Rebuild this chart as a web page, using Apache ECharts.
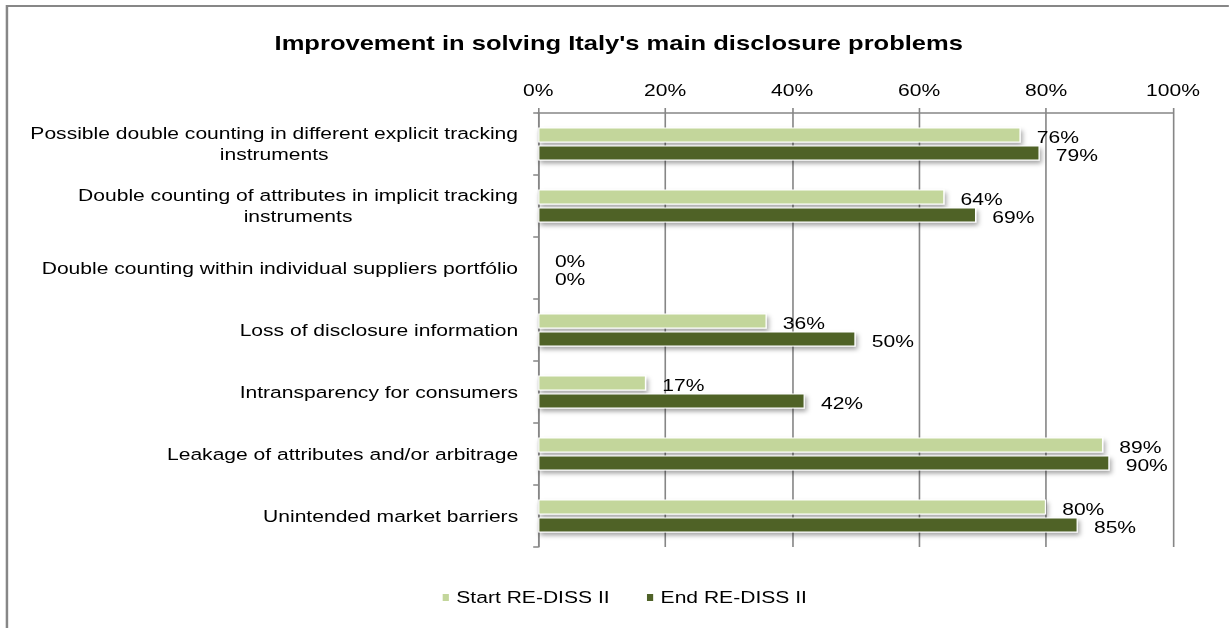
<!DOCTYPE html>
<html>
<head>
<meta charset="utf-8">
<script src="https://cdn.jsdelivr.net/npm/echarts@6/dist/echarts.min.js"></script>
<style>
  html, body { margin: 0; padding: 0; background: #ffffff; overflow: hidden; }
  /* the chart is laid out narrower and widened horizontally, giving the wide lettering */
  #chart { width: 991px; height: 628px; transform: scaleX(1.24); transform-origin: 0 0; }
</style>
</head>
<body>
<div id="chart"></div>
<script>
// Problem categories, top to bottom
const categories = [
  'Possible double counting in different explicit tracking\ninstruments',
  'Double counting of attributes in implicit tracking\ninstruments',
  'Double counting within individual suppliers portfólio',
  'Loss of disclosure information',
  'Intransparency for consumers',
  'Leakage of attributes and/or arbitrage',
  'Unintended market barriers'
];
// Share of problem solved (%)
const startValues = [76, 64, 0, 36, 17, 89, 80];
const endValues = [79, 69, 0, 50, 42, 90, 85];
const seriesNames = ['Start RE-DISS II', 'End RE-DISS II'];
const titleText = "Improvement in solving Italy's main disclosure problems";

const FONT = "'Liberation Sans', Arial, sans-serif";
const GRAY = '#868686';
const LIGHT = '#C3D69B';
const DARK = '#4F6228';

const chart = echarts.init(document.getElementById('chart'), null, { renderer: 'svg' });

const barStyle = (color) => ({
  color: color,
  borderColor: '#ffffff',
  borderWidth: 1,
  shadowColor: 'rgba(0,0,0,0.35)',
  shadowBlur: 4,
  shadowOffsetX: 1.5,
  shadowOffsetY: 3
});

const labelStyle = {
  show: true,
  position: 'right',
  distance: 13,
  offset: [0, 2],
  formatter: '{c}%',
  fontFamily: FONT,
  fontSize: 17,
  color: '#000000'
};

chart.setOption({
  animation: false,
  backgroundColor: '#ffffff',
  textStyle: { fontFamily: FONT },
  title: {
    text: titleText,
    left: 494,
    textAlign: 'center',
    top: 27,
    textStyle: { fontFamily: FONT, fontSize: 20.6, fontWeight: 'bold', color: '#000000' }
  },
  graphic: [{
    type: 'rect',
    shape: { x: 5.6, y: 6, width: 1000, height: 640 },
    style: { fill: 'none', stroke: '#878787', lineWidth: 2 },
    silent: true
  }],
  legend: {
    data: seriesNames,
    bottom: 17,
    left: 350,
    icon: 'rect',
    itemWidth: 7,
    itemHeight: 9,
    itemGap: 28,
    textStyle: { fontFamily: FONT, fontSize: 17, color: '#000000' }
  },
  grid: { left: 434, right: 45, top: 113, bottom: 81, containLabel: false },
  xAxis: {
    type: 'value',
    position: 'top',
    min: 0,
    max: 100,
    interval: 20,
    axisLine: { show: true, lineStyle: { color: GRAY, width: 1.5 } },
    axisTick: { show: true, length: 5, lineStyle: { color: GRAY, width: 1.3 } },
    splitLine: { show: true, lineStyle: { color: GRAY, width: 1.3 } },
    axisLabel: {
      formatter: '{value}%',
      margin: 14,
      fontFamily: FONT,
      fontSize: 17,
      color: '#000000'
    }
  },
  yAxis: {
    type: 'category',
    inverse: true,
    data: categories,
    axisLine: { show: true, lineStyle: { color: GRAY, width: 1.3 } },
    axisTick: { show: true, length: 4, lineStyle: { color: GRAY, width: 1.5 } },
    axisLabel: {
      margin: 16,
      lineHeight: 21,
      fontFamily: FONT,
      fontSize: 17,
      color: '#000000',
      formatter: (v) => v.split('\n').map((s) => '{c|' + s + '}').join('\n'),
      rich: { c: { align: 'center', fontFamily: FONT, fontSize: 17, lineHeight: 21, color: '#000000' } }
    }
  },
  series: [
    {
      name: seriesNames[0],
      type: 'bar',
      data: startValues,
      barWidth: 15,
      barGap: '20%',
      itemStyle: barStyle(LIGHT),
      label: labelStyle
    },
    {
      name: seriesNames[1],
      type: 'bar',
      data: endValues,
      barWidth: 15,
      barGap: '20%',
      itemStyle: barStyle(DARK),
      label: labelStyle
    }
  ]
});
</script>
</body>
</html>
